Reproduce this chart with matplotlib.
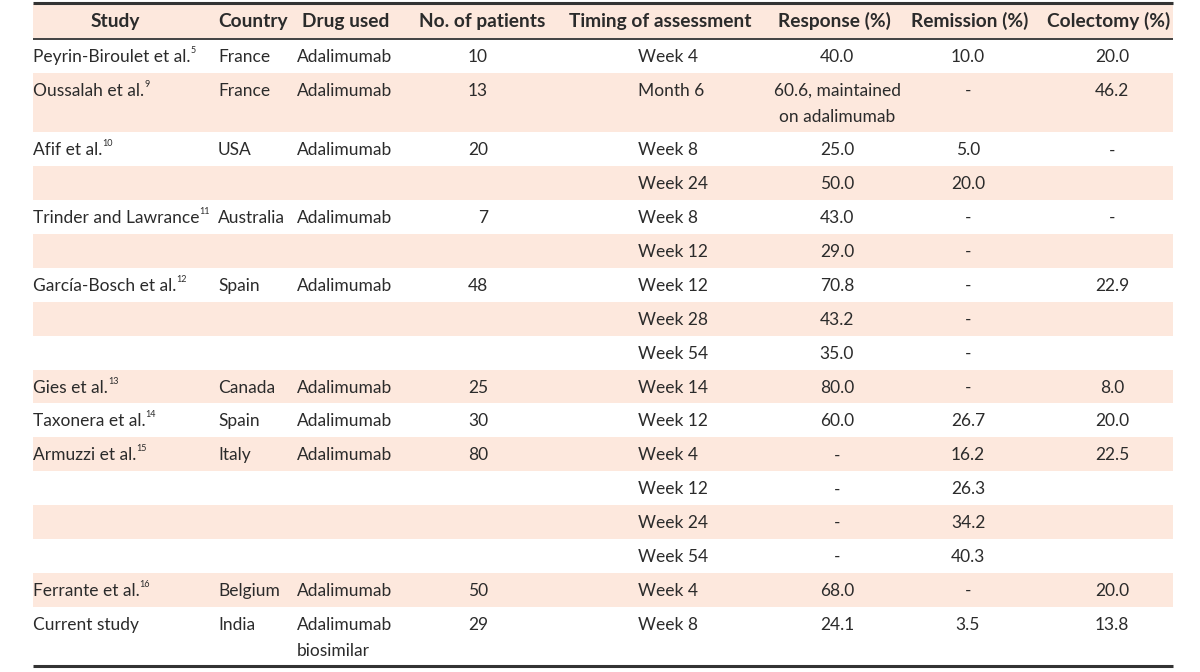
import matplotlib.pyplot as plt

header = ["Study", "Country", "Drug used", "No. of patients", "Timing of assessment",
          "Response (%)", "Remission (%)", "Colectomy (%)"]
study = ["Peyrin-Biroulet et al.", "Oussalah et al.", "Afif et al.", "", "Trinder and Lawrance", "",
         "García-Bosch et al.", "", "", "Gies et al.", "Taxonera et al.", "Armuzzi et al.", "", "", "",
         "Ferrante et al.", "Current study"]
refs = ["5", "9", "10", "", "11", "", "12", "", "", "13", "14", "15", "", "", "", "16", ""]
country = ["France", "France", "USA", "", "Australia", "", "Spain", "", "", "Canada", "Spain", "Italy",
           "", "", "", "Belgium", "India"]
drug = ["Adalimumab", "Adalimumab", "Adalimumab", "", "Adalimumab", "", "Adalimumab", "", "",
        "Adalimumab", "Adalimumab", "Adalimumab", "", "", "", "Adalimumab", "Adalimumab\nbiosimilar"]
patients = ["10", "13", "20", "", "7", "", "48", "", "", "25", "30", "80", "", "", "", "50", "29"]
timing = ["Week 4", "Month 6", "Week 8", "Week 24", "Week 8", "Week 12", "Week 12", "Week 28", "Week 54",
          "Week 14", "Week 12", "Week 4", "Week 12", "Week 24", "Week 54", "Week 4", "Week 8"]
response = ["40.0", "60.6, maintained\non adalimumab", "25.0", "50.0", "43.0", "29.0", "70.8", "43.2",
            "35.0", "80.0", "60.0", "-", "-", "-", "-", "68.0", "24.1"]
remission = ["10.0", "-", "5.0", "20.0", "-", "-", "-", "-", "-", "-", "26.7", "16.2", "26.3", "34.2",
             "40.3", "-", "3.5"]
colectomy = ["20.0", "46.2", "-", "", "-", "", "22.9", "", "", "8.0", "20.0", "22.5", "", "", "",
             "20.0", "13.8"]

columns = [study, country, drug, patients, timing, response, remission, colectomy]
col_x = [33, 218, 297, 488, 638, 837, 968, 1112]
col_ha = ['left', 'left', 'left', 'right', 'left', 'center', 'center', 'center']
head_x = [115, 253, 346, 482, 660, 834, 970, 1109]

shade = '#fde8dd'
ink = '#2b2b2b'
plt.rcParams['font.family'] = ['Lato', 'DejaVu Sans']

fig = plt.figure(figsize=(12, 6.72), dpi=100)
ax = fig.add_axes([0, 0, 1, 1])
ax.set_xlim(0, 1200)
ax.set_ylim(672, 0)
ax.axis('off')

left, right = 33, 1173
xmin, xmax = left / 1200, right / 1200

# header
ax.axhspan(4, 38, xmin, xmax, color=shade, lw=0)
for x, h in zip(head_x, header):
    ax.text(x, 27, h, ha='center', va='baseline', fontsize=13.8, fontweight='bold', color=ink)

row_h, extra = 33.9, 25.5
top = 39
fig.canvas.draw()
renderer = fig.canvas.get_renderer()
for i in range(len(study)):
    nlines = max(len(col[i].split('\n')) for col in columns)
    h = row_h + extra * (nlines - 1)
    if i % 2 == 1:
        ax.axhspan(top, top + h, xmin, xmax, color=shade, lw=0)
    for col, x, ha in zip(columns, col_x, col_ha):
        for k, line in enumerate(col[i].split('\n')):
            t = ax.text(x, top + 23 + k * 26, line, ha=ha, va='baseline', fontsize=12.5, color=ink)
            if col is study and refs[i]:
                bb = t.get_window_extent(renderer).transformed(ax.transData.inverted())
                ax.text(bb.x1, top + 14, refs[i], ha='left', va='baseline', fontsize=6.5, color=ink)
    top += h

ax.hlines([3], left, right, color='#333333', lw=2.2)
ax.hlines([38.5], left, right, color='#333333', lw=1.3)
ax.hlines([666], left, right, color='#333333', lw=2.2)

fig.savefig('out.png', dpi=100)
